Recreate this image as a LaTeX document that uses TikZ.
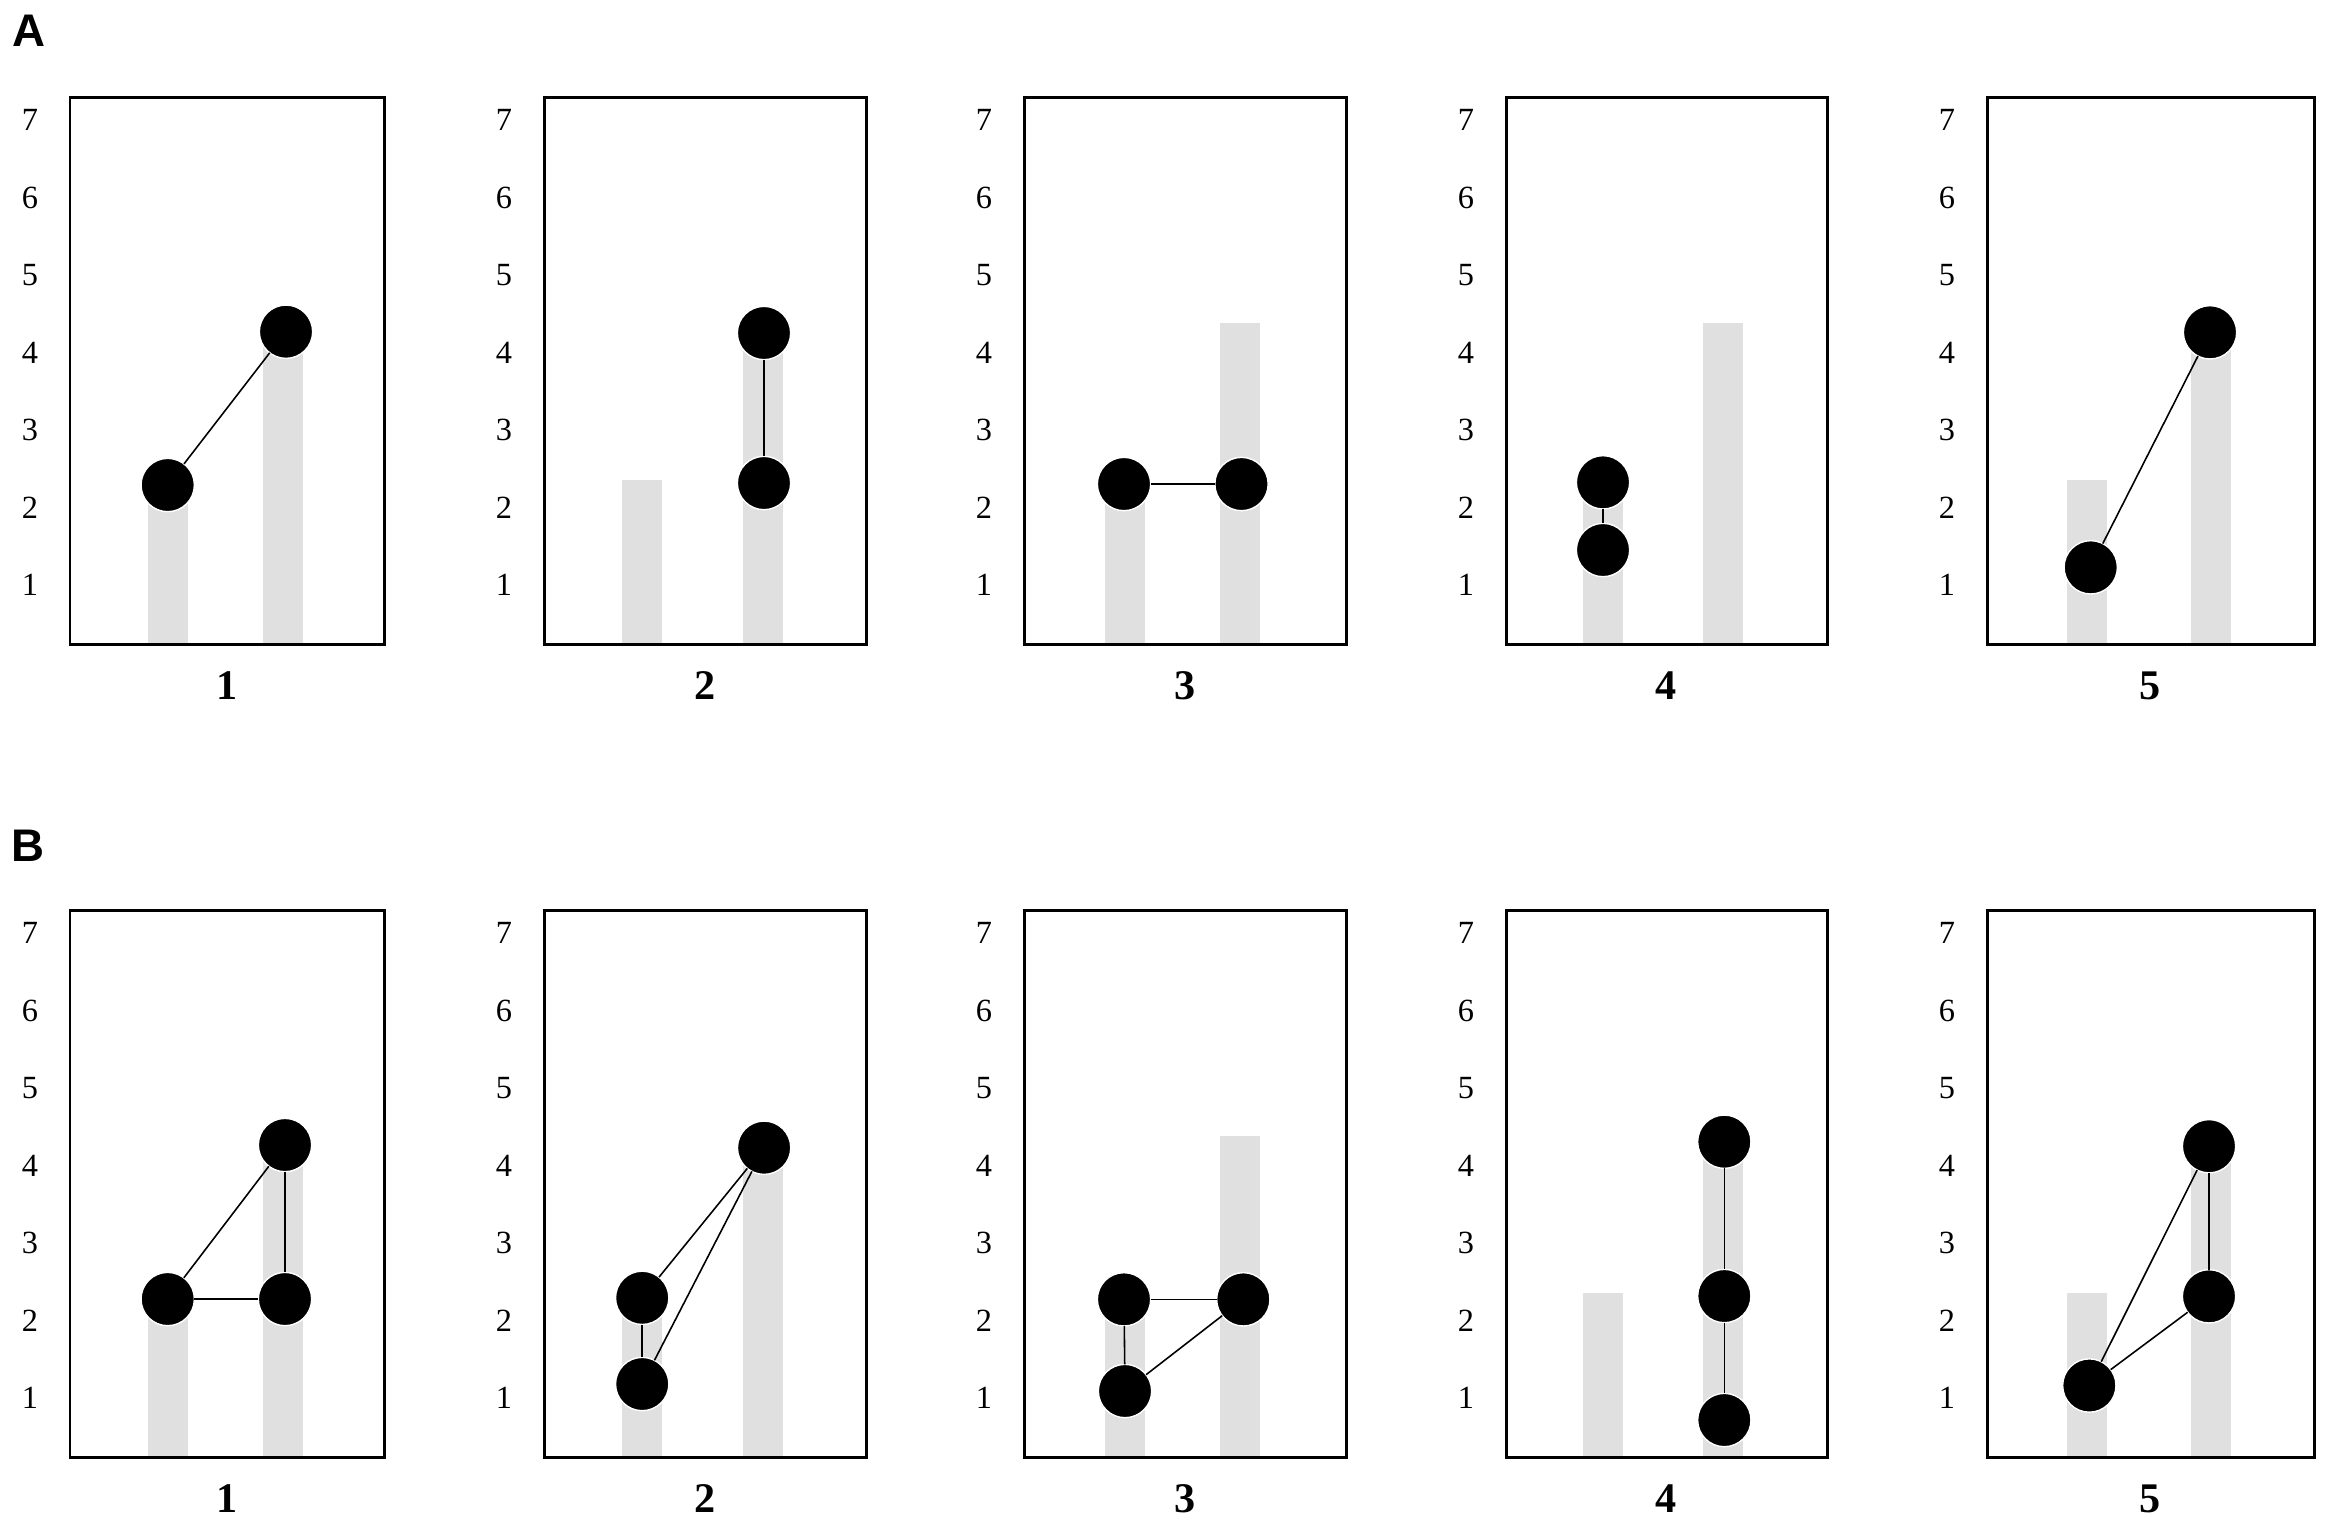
\documentclass[tikz,border=0pt]{standalone}
\usepackage{fontspec}
\setmainfont{Liberation Serif}
\newfontfamily\lettersf{Liberation Sans}
\begin{document}
\begin{tikzpicture}[x=0.01cm,y=-0.01cm,
  frame/.style={draw=black,line width=0.85pt},
  bar/.style={fill=black!12},
  dot/.style={circle,fill=black,draw=white,line width=0.4pt,inner sep=0pt,outer sep=0pt,minimum size=0.533cm},
  conn/.style={draw=black,line width=0.45pt},
  tick/.style={font=\fontsize{9.2}{10}\selectfont,inner sep=0pt},
  pnum/.style={font=\fontsize{12}{14}\selectfont\bfseries,inner sep=0pt},
  plet/.style={font=\lettersf\bfseries\fontsize{13}{15}\selectfont,inner sep=0pt}]
\useasboundingbox (0,0) rectangle (2331,1529);
\fill[white] (0,0) rectangle (2331,1529);
\node[plet] (letA) at (29,31) {A};
\node[plet] (letB) at (28,846) {B};
\foreach \T/\B/\off/\r in {97/644/0/A, 910/1457/813/B}{
  \foreach \L/\R/\bl/\br/\n in {70/384/167.7/283.3/1, 544/866/641.7/763.3/2, 1024/1346/1125/1240/3, 1506/1827/1603.3/1723.3/4, 1987/2314/2087/2211/5}{
    \fill[bar] (\bl-20,\B) rectangle (\bl+20,480.4+\off);
    \fill[bar] (\br-20,\B) rectangle (\br+20,323.05+\off);
    \draw[frame] (\L,\T) rectangle (\R,\B);
    \foreach \v in {1,...,7}{
      \node[tick] (tick\r\n\v) at (\L-40,662.5+\off-77.5*\v) {\v};
    }
    \node[pnum] (num\r\n) at ({(\L+\R)/2},\B+41.5) {\n};
  }
}
% Row A
\node[dot] (A1a) at (167.7,485) {};
\node[dot] (A1b) at (286,331.7) {};
\draw[conn] (A1a) -- (A1b);
\node[dot] (A2a) at (764,333) {};
\node[dot] (A2b) at (764,483) {};
\draw[conn] (A2a) -- (A2b);
\node[dot] (A3a) at (1124,484) {};
\node[dot] (A3b) at (1241.5,484) {};
\draw[conn] (A3a) -- (A3b);
\node[dot] (A4a) at (1603,482.3) {};
\node[dot] (A4b) at (1603,550) {};
\draw[conn] (A4a) -- (A4b);
\node[dot] (A5a) at (2090.7,567.3) {};
\node[dot] (A5b) at (2210,332.3) {};
\draw[conn] (A5a) -- (A5b);
% Row B
\node[dot] (B1a) at (167.7,1299) {};
\node[dot] (B1b) at (285,1145) {};
\node[dot] (B1c) at (285,1299) {};
\draw[conn] (B1a) -- (B1b);
\draw[conn] (B1a) -- (B1c);
\draw[conn] (B1b) -- (B1c);
\node[dot] (B2a) at (642.2,1297.8) {};
\node[dot] (B2b) at (642.2,1384) {};
\node[dot] (B2c) at (764.1,1147.7) {};
\draw[conn] (B2a) -- (B2c);
\draw[conn] (B2b) -- (B2c);
\draw[conn] (B2a) -- (B2b);
\node[dot] (B3a) at (1124,1299.3) {};
\node[dot] (B3b) at (1125,1391) {};
\node[dot] (B3c) at (1243.3,1299.3) {};
\draw[conn] (B3a) -- (B3c);
\draw[conn] (B3a) -- (B3b);
\draw[conn] (B3b) -- (B3c);
\node[dot] (B4a) at (1724.3,1141.7) {};
\node[dot] (B4b) at (1724.3,1296) {};
\node[dot] (B4c) at (1724.3,1420) {};
\draw[conn] (B4a) -- (B4b);
\draw[conn] (B4b) -- (B4c);
\node[dot] (B5a) at (2209,1146.2) {};
\node[dot] (B5b) at (2209,1296.3) {};
\node[dot] (B5c) at (2089.3,1385.5) {};
\draw[conn] (B5c) -- (B5a);
\draw[conn] (B5c) -- (B5b);
\draw[conn] (B5a) -- (B5b);
\end{tikzpicture}
\end{document}
